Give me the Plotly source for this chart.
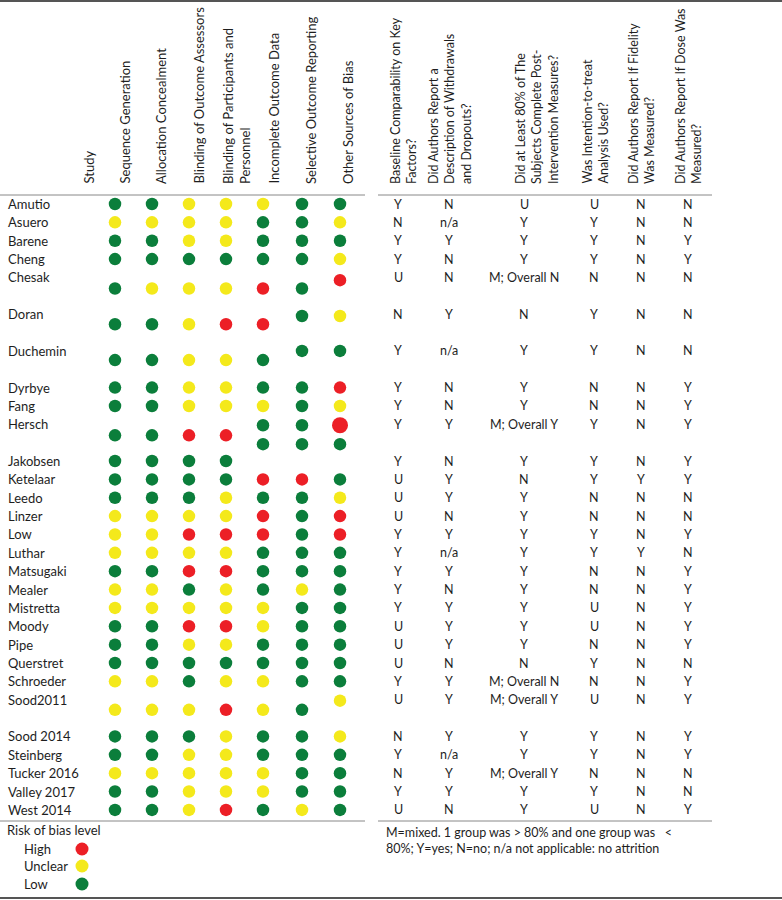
import plotly.graph_objects as go

# ---------------- data ----------------
studies = ["Amutio", "Asuero", "Barene", "Cheng", "Chesak", "Doran", "Duchemin", "Dyrbye",
           "Fang", "Hersch", "Jakobsen", "Ketelaar", "Leedo", "Linzer", "Low", "Luthar",
           "Matsugaki", "Mealer", "Mistretta", "Moody", "Pipe", "Querstret", "Schroeder",
           "Sood2011", "Sood 2014", "Steinberg", "Tucker 2016", "Valley 2017", "West 2014"]

bias_domains = ["Sequence Generation", "Allocation Concealment", "Blinding of Outcome Assessors",
                "Blinding of Participants and<br>Personnel", "Incomplete Outcome Data",
                "Selective Outcome Reporting", "Other Sources of Bias"]

# H = high, U = unclear, L = low ; "/" separates two stacked judgements
sequence_generation = ["L", "U", "L", "L", "L", "L", "L", "L", "L", "L", "L", "L", "L", "U", "U", "U",
                       "L", "U", "U", "L", "L", "L", "U", "U", "L", "L", "U", "L", "L"]
allocation_concealment = ["L", "U", "L", "L", "U", "L", "L", "L", "L", "L", "L", "L", "L", "U", "U", "U",
                          "L", "U", "U", "L", "L", "L", "U", "U", "L", "L", "U", "L", "L"]
blinding_assessors = ["U", "U", "U", "L", "U", "U", "U", "U", "U", "H", "L", "L", "L", "U", "H", "U",
                      "H", "L", "U", "H", "U", "L", "L", "U", "L", "U", "U", "U", "U"]
blinding_participants = ["U", "U", "U", "L", "U", "H", "U", "U", "U", "H", "L", "L", "U", "U", "H", "U",
                         "H", "U", "U", "H", "U", "L", "U", "H", "U", "U", "U", "U", "H"]
incomplete_data = ["U", "L", "L", "L", "H", "H", "L", "L", "U", "L/L", "", "H", "L", "H", "H", "L",
                   "L", "L", "U", "U", "L", "L", "U", "U", "L", "L", "U", "U", "L"]
selective_reporting = ["L", "L", "L", "L", "L", "L", "L", "L", "L", "L/L", "", "H", "L", "L", "L", "L",
                       "L", "U", "L", "L", "L", "L", "L", "L", "L", "L", "L", "L", "U"]
other_bias = ["L", "U", "L", "U", "H", "U", "L", "H", "U", "H/L", "", "L", "U", "H", "H", "L",
              "L", "L", "L", "L", "L", "L", "L", "U", "U", "L", "L", "L", "L"]
bias_columns = [sequence_generation, allocation_concealment, blinding_assessors,
                blinding_participants, incomplete_data, selective_reporting, other_bias]

quality_questions = ["Baseline Comparability on Key<br>Factors?",
                     "Did Authors Report a<br>Description of Withdrawals<br>and Dropouts?",
                     "Did at Least 80% of The<br>Subjects Complete Post-<br>Intervention Measures?",
                     "Was Intention-to-treat<br>Analysis Used?",
                     "Did Authors Report If Fidelity<br>Was Measured?",
                     "Did Authors Report If Dose Was<br>Measured?"]
baseline = ["Y", "N", "Y", "Y", "U", "N", "Y", "Y", "Y", "Y", "Y", "U", "U", "U", "Y", "Y", "Y", "Y",
            "Y", "U", "U", "U", "Y", "U", "N", "Y", "N", "Y", "U"]
withdrawals = ["N", "n/a", "Y", "N", "N", "Y", "n/a", "N", "N", "Y", "N", "Y", "Y", "N", "Y", "n/a",
               "Y", "N", "Y", "Y", "Y", "N", "Y", "Y", "Y", "n/a", "Y", "Y", "N"]
completion80 = ["U", "Y", "Y", "Y", "M; Overall N", "N", "Y", "Y", "Y", "M; Overall Y", "Y", "N", "Y",
                "Y", "Y", "Y", "Y", "Y", "Y", "Y", "Y", "N", "M; Overall N", "M; Overall Y", "Y", "Y",
                "M; Overall Y", "Y", "Y"]
itt = ["U", "Y", "Y", "Y", "N", "Y", "Y", "N", "N", "Y", "Y", "Y", "N", "N", "Y", "Y", "N", "N",
       "U", "U", "N", "Y", "N", "U", "Y", "Y", "N", "Y", "U"]
fidelity = ["N", "N", "N", "N", "N", "N", "N", "N", "N", "N", "N", "Y", "N", "N", "N", "Y", "N", "N",
            "N", "N", "N", "N", "N", "N", "N", "N", "N", "N", "N"]
dose = ["N", "N", "Y", "Y", "N", "N", "N", "Y", "Y", "Y", "Y", "Y", "N", "N", "Y", "N", "Y", "Y",
        "Y", "Y", "Y", "N", "Y", "Y", "Y", "Y", "N", "N", "Y"]
quality_columns = [baseline, withdrawals, completion80, itt, fidelity, dose]

legend_levels = ["High", "Unclear", "Low"]
footnote = ("M=mixed. 1 group was &gt; 80% and one group was\u00a0\u00a0\u00a0&lt;<br>"
            "80%; Y=yes; N=no; n/a not applicable: no attrition")

# ---------------- layout / style ----------------
W, H = 782, 900
FONT = "Lato"
TXT = "#1e1e1e"
COLORS = {"H": "#ec1f26", "U": "#f4e91b", "L": "#0b7e3b"}
LEVEL_CODE = {"High": "H", "Unclear": "U", "Low": "L"}

row_slots = [0, 1, 2, 3, 4, 6, 8, 10, 11, 12, 14, 15, 16, 17, 18, 19, 20, 21, 22, 23, 24, 25, 26,
             27, 29, 30, 31, 32, 33]
Y0, DY = 204, 18.36
dot_x = [115, 152, 189, 226, 263, 302, 340]
header_x = [124, 161, 198, 236, 273, 311, 348]
q_x = [398, 449, 524, 594, 641, 688]
q_header_x = [403.5, 450, 537, 594.5, 641.5, 688]
# vertical offsets (in row units) for studies with taller rows
main_off = {"Chesak": 0.6, "Doran": 0.55, "Duchemin": 0.5, "Hersch": 0.6, "Sood2011": 0.55}
raised_off = {("Chesak", 6): 0.15, ("Doran", 5): 0.1, ("Doran", 6): 0.1,
              ("Duchemin", 5): 0.0, ("Duchemin", 6): 0.0, ("Sood2011", 6): 0.05}
stack_off = [0.05, 1.08]


def ypix(slot):
    return Y0 + slot * DY


fig = go.Figure()

# dots
xs, ys, cs, ss = [], [], [], []
for ci, col in enumerate(bias_columns):
    for si, val in enumerate(col):
        if not val:
            continue
        name = studies[si]
        parts = val.split("/")
        for pi, p in enumerate(parts):
            if len(parts) > 1:
                off = stack_off[pi]
            else:
                off = raised_off.get((name, ci), main_off.get(name, 0.0))
            xs.append(dot_x[ci])
            ys.append(ypix(row_slots[si] + off))
            cs.append(COLORS[p])
            ss.append(16 if (name == "Hersch" and ci == 6 and pi == 0) else 12.5)
fig.add_trace(go.Scatter(x=xs, y=ys, mode="markers",
                         marker=dict(color=cs, size=ss, opacity=1, line=dict(width=0)),
                         hoverinfo="skip", showlegend=False))

# legend dots
fig.add_trace(go.Scatter(x=[82] * 3, y=[849, 866, 884], mode="markers",
                         marker=dict(color=[COLORS[LEVEL_CODE[l]] for l in legend_levels], size=13,
                                     opacity=1, line=dict(width=0)),
                         hoverinfo="skip", showlegend=False))

ann = []
# study names
for si, name in enumerate(studies):
    ann.append(dict(x=6, y=ypix(row_slots[si]), text=name, xanchor="left", yanchor="middle",
                    showarrow=False, font=dict(size=13, color=TXT, family=FONT)))
# quality values
for qi, col in enumerate(quality_columns):
    for si, v in enumerate(col):
        ann.append(dict(x=q_x[qi], y=ypix(row_slots[si]), text=v, xanchor="center",
                        yanchor="middle", showarrow=False,
                        font=dict(size=12.5, color=TXT, family=FONT)))
# headers
ann.append(dict(x=88, y=186, text="Study", textangle=-90, xanchor="center", yanchor="bottom",
                showarrow=False, font=dict(size=13, color=TXT, family=FONT)))
for hi, h in enumerate(bias_domains):
    ann.append(dict(x=header_x[hi], y=186, text=h, textangle=-90, xanchor="center",
                    yanchor="bottom", align="left", showarrow=False,
                    font=dict(size=13, color=TXT, family=FONT)))
for hi, h in enumerate(quality_questions):
    ann.append(dict(x=q_header_x[hi], y=186, text=h, textangle=-90, xanchor="center",
                    yanchor="bottom", align="left", showarrow=False,
                    font=dict(size=12.5, color=TXT, family=FONT)))
# legend text
ann.append(dict(x=5, y=830, text="Risk of bias level", xanchor="left", yanchor="middle",
                showarrow=False, font=dict(size=13, color=TXT, family=FONT)))
for li, l in enumerate(legend_levels):
    ann.append(dict(x=22, y=[849, 866, 884][li], text=l, xanchor="left", yanchor="middle",
                    showarrow=False, font=dict(size=13, color=TXT, family=FONT)))
ann.append(dict(x=384, y=823, text=footnote, xanchor="left", yanchor="top", align="left",
                showarrow=False, font=dict(size=12.5, color=TXT, family=FONT)))

shapes = [
    dict(type="line", x0=0, x1=782, y0=1, y1=1, line=dict(color="#555", width=2)),
    dict(type="line", x0=0, x1=782, y0=898, y1=898, line=dict(color="#555", width=2)),
    dict(type="line", x0=0, x1=365, y0=195, y1=195, line=dict(color="#888", width=1)),
    dict(type="line", x0=378, x1=712, y0=195, y1=195, line=dict(color="#888", width=1)),
    dict(type="line", x0=0, x1=365, y0=821, y1=821, line=dict(color="#888", width=1)),
    dict(type="line", x0=378, x1=712, y0=821, y1=821, line=dict(color="#888", width=1)),
]

fig.update_layout(
    width=W, height=H, margin=dict(l=0, r=0, t=0, b=0),
    paper_bgcolor="white", plot_bgcolor="white",
    xaxis=dict(range=[0, W], visible=False, fixedrange=True),
    yaxis=dict(range=[H, 0], visible=False, fixedrange=True),
    annotations=ann, shapes=shapes,
)

fig.write_html("out.html", config={"displayModeBar": False},
               post_script="document.body.style.margin='0';document.body.style.overflow='hidden';")
